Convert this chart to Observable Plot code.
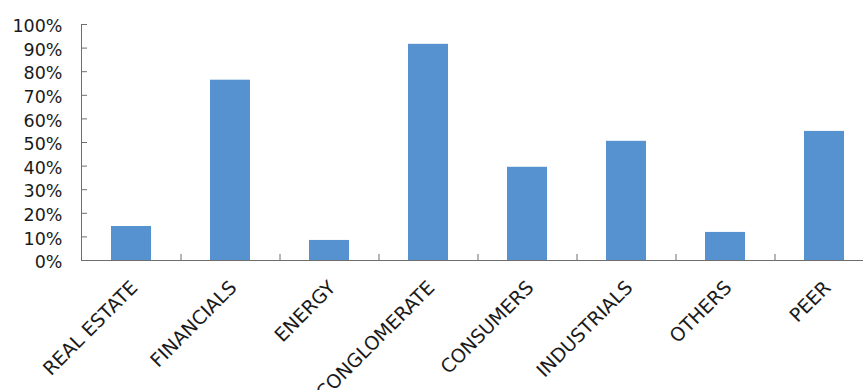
<!DOCTYPE html>
<html>
<head>
<meta charset="utf-8">
<script src="https://cdn.jsdelivr.net/npm/d3@7"></script>
<script src="https://cdn.jsdelivr.net/npm/@observablehq/plot@0.6"></script>
<style>
  html, body { margin: 0; padding: 0; background: #fff; overflow: hidden; }
  #chart { width: 863px; height: 390px; overflow: hidden; }
  #chart svg { max-width: none !important; }
</style>
</head>
<body>
<div id="chart"></div>
<script>
// Share by sector, in percent
const sectors = ["REAL ESTATE", "FINANCIALS", "ENERGY", "CONGLOMERATE", "CONSUMERS", "INDUSTRIALS", "OTHERS", "PEER"];
const shares = [14.4, 76.4, 8.5, 91.6, 39.5, 50.5, 11.9, 54.7];
const yTicks = [0, 10, 20, 30, 40, 50, 60, 70, 80, 90, 100];

const data = sectors.map((sector, i) => ({ sector, share: shares[i] }));

const W = 873, H = 390, mL = 81, mT = 24, mB = 130;
const step = (W - mL) / sectors.length;
const axisColor = "#6e6e6e";
const textColor = "#1a1a1a";

const chart = Plot.plot({
  width: W,
  height: H,
  marginLeft: mL,
  marginRight: 0,
  marginTop: mT,
  marginBottom: mB,
  style: { fontFamily: "'DejaVu Sans', Verdana, sans-serif", fontSize: "17px", color: textColor, background: "#fff", maxWidth: "none" },
  x: { domain: sectors, paddingInner: 0.6, paddingOuter: 0.3, axis: null, label: null },
  y: { domain: [0, 100], axis: null, label: null },
  marks: [
    Plot.barY(data, { x: "sector", y: "share", fill: "#5692cf" }),
    // inward tick marks on the value axis
    Plot.axisY(yTicks, { tickSize: 6, dx: 6, text: null, label: null, stroke: axisColor }),
    Plot.axisY(yTicks, { tickSize: 0, tickPadding: 19, dy: 2, label: null, tickFormat: d => d + "%", fontSize: 17.5, fill: textColor }),
    // inward tick marks between categories
    Plot.axisX({ tickSize: 6, dx: step / 2, dy: -6, text: null, label: null, stroke: axisColor }),
    Plot.axisX({ tickSize: 0, tickRotate: -45, tickPadding: 24, dx: 3, label: null, fontSize: 19, fill: textColor }),
    Plot.frame({ anchor: "left", stroke: axisColor }),
    Plot.ruleY([0], { stroke: axisColor })
  ]
});

document.getElementById("chart").appendChild(chart);
</script>
</body>
</html>
